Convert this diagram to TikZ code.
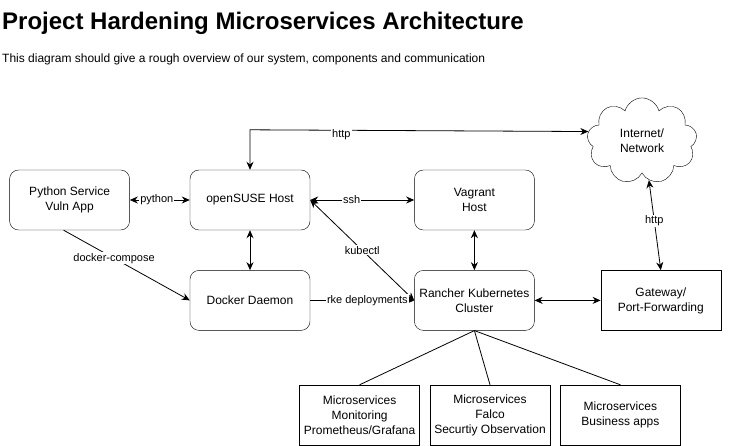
\documentclass[tikz,border=0pt]{standalone}
\usepackage{fontspec}
\setmainfont{Liberation Sans}
\usetikzlibrary{positioning,shapes.symbols,arrows.meta}

\tikzset{
	box/.style={draw, rounded corners=9bp, minimum width=120bp, minimum height=60bp, inner sep=0pt, align=center, font=\fontsize{12bp}{15bp}\selectfont},
	plainbox/.style={box, sharp corners},
	lbl/.style={fill=white, inner sep=1bp, font=\fontsize{11bp}{13bp}\selectfont},
	link/.style={line width=0.8bp},
	oneway/.style={link, -{Stealth[length=8bp,width=7bp]}},
	twoway/.style={link, {Stealth[length=8bp,width=7bp]}-{Stealth[length=8bp,width=7bp]}}
}

\begin{document}
\begin{tikzpicture}[x=1bp, y=-1bp, node distance=40bp]
	\useasboundingbox (0,0) rectangle (740,446);

	\node(Title) [anchor=base west, inner sep=0pt, font=\fontsize{24bp}{28bp}\selectfont\bfseries] at (2,30) {Project Hardening Microservices Architecture};
	\node(Sub) [anchor=base west, inner sep=0pt, font=\fontsize{12bp}{15bp}\selectfont] at (2,63) {This diagram should give a rough overview of our system, components and communication};

	\node(SUSE) [box] at (250,200) {openSUSE Host};
	\node(Python) [box, left=60bp of SUSE] {Python Service\\Vuln App};
	\node(Vagrant) [box, right=104bp of SUSE] {Vagrant\\Host};
	\node(Docker) [box, below=of SUSE] {Docker Daemon};
	\node(Rancher) [box, below=of Vagrant] {Rancher Kubernetes\\Cluster};
	\node(Gateway) [plainbox, right=66bp of Rancher] {Gateway/\\Port-Forwarding};
	\node(Cloud) [draw, cloud, cloud puffs=9, minimum width=110bp, minimum height=72bp, align=center, font=\fontsize{12bp}{15bp}\selectfont] at (642,141) {Internet/\\Network};

	\node(Falco) [plainbox] at (490,415) {Microservices\\Falco\\Securtiy Observation};
	\node(Monitor) [plainbox, left=10bp of Falco] {Microservices\\Monitoring\\Prometheus/Grafana};
	\node(Business) [plainbox, right=10bp of Falco] {Microservices\\Business apps};

	\draw[twoway] (SUSE.north) -- ++(0,-40) -- node[lbl, pos=0.27, yshift=-4bp] {http} (Cloud.170);
	\draw[twoway] (Python) -- node[lbl, pos=0.45] {python} (SUSE);
	\draw[twoway] (SUSE) -- node[lbl, pos=0.4] {ssh} (Vagrant);
	\draw[twoway] (SUSE.east) -- node[lbl] {kubectl} (Rancher.west);
	\draw[twoway] (SUSE) -- (Docker);
	\draw[twoway] (Vagrant) -- (Rancher);
	\draw[oneway] ([xshift=-6bp]Python.south) -- node[lbl, pos=0.4] {docker-compose} (Docker.west);
	\draw[oneway] (Docker) -- node[lbl, pos=0.55] {rke deployments} (Rancher);
	\draw[twoway] (Rancher) -- (Gateway);
	\draw[twoway] (Cloud.-80) -- node[lbl, pos=0.45] {http} (Gateway.north);

	\draw[link] (Rancher.south) -- (Monitor.north);
	\draw[link] (Rancher.south) -- (Falco.north);
	\draw[link] (Rancher.south) -- (Business.north);

	\end{tikzpicture}
\end{document}
